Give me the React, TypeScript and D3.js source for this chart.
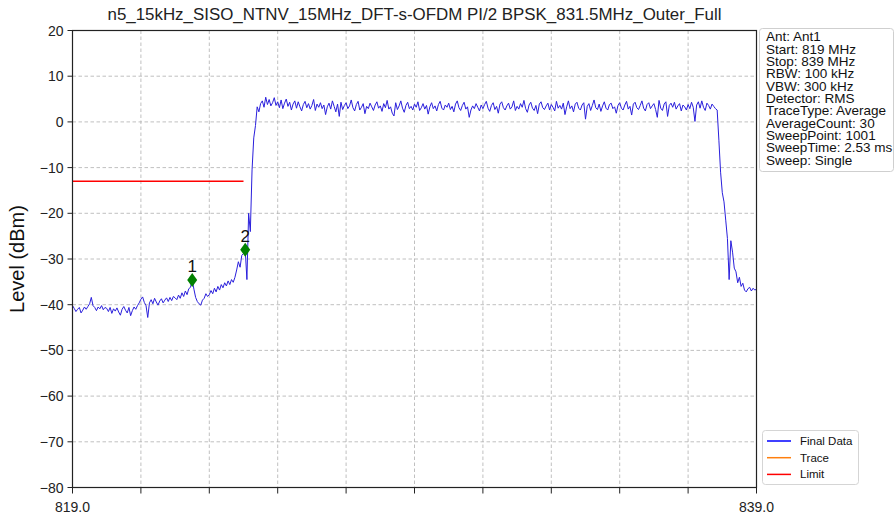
import React from "react";
import * as d3 from "d3";

const TITLE = "n5_15kHz_SISO_NTNV_15MHz_DFT-s-OFDM PI/2 BPSK_831.5MHz_Outer_Full";
const START_FREQ = 819;
const STOP_FREQ = 839;
const FREQ_STEP = 0.05;
const yTicks = [20, 10, 0, -10, -20, -30, -40, -50, -60, -70, -80];
const xTicks = [819, 821, 823, 825, 827, 829, 831, 833, 835, 837, 839];
const xTickLabels = ["819.0", "", "", "", "", "", "", "", "", "", "839.0"];

// Trace levels (dBm), one value per 0.05 MHz from 819.00 to 839.00
const traceLevels = [
  -40.2,-40.8,-41.5,-41.0,-40.6,-41.8,-41.2,-40.5,-41.0,-40.4,-39.8,-38.4,-40.2,-40.6,-41.3,-40.5,-40.9,-40.2,-41.1,-40.6,
  -40.8,-41.5,-40.6,-41.9,-40.9,-41.4,-40.7,-41.6,-42.3,-41.0,-40.4,-41.2,-41.8,-40.6,-42.4,-41.3,-40.5,-41.0,-40.2,-39.6,
  -38.8,-38.3,-39.5,-40.2,-42.8,-39.6,-38.9,-39.8,-38.6,-39.4,-40.1,-39.2,-38.7,-39.6,-39.0,-38.5,-39.3,-38.4,-39.1,-38.2,
  -38.5,-38.9,-37.9,-38.6,-37.4,-38.2,-37.0,-37.8,-36.5,-36.2,-34.6,-36.6,-38.4,-39.3,-39.8,-40.1,-39.0,-38.6,-37.6,-38.2,
  -37.8,-36.9,-37.6,-36.4,-37.2,-36.0,-36.8,-35.6,-36.3,-35.2,-35.9,-34.8,-35.6,-34.5,-35.1,-34.0,-32.4,-30.6,-31.8,-29.2,
  -28.8,-28.0,-34.5,-20.0,-24.0,-10.5,-3.5,-0.8,3.3,2.2,4.0,4.6,3.2,5.4,3.8,4.9,3.5,4.2,5.3,3.6,
  4.4,3.1,4.8,2.9,4.1,5.0,3.4,4.3,2.6,3.9,4.6,3.0,4.4,3.3,2.4,3.8,4.5,3.1,4.0,2.8,
  3.6,4.9,2.5,3.9,3.2,4.2,2.9,3.7,1.6,3.3,4.1,2.8,4.6,3.4,2.2,3.9,1.2,4.3,2.7,3.6,
  4.2,2.9,3.5,4.8,3.1,2.4,3.8,4.5,2.6,3.2,4.0,1.8,3.4,2.9,4.1,3.3,2.5,3.7,4.4,3.0,
  3.5,2.3,4.0,3.1,4.7,2.8,3.3,1.9,1.3,4.2,2.7,3.5,4.6,3.0,2.1,3.6,4.3,2.9,3.4,2.6,
  3.9,3.2,4.4,2.5,3.1,4.0,2.8,3.6,1.7,3.3,4.2,2.9,3.5,2.4,3.8,4.5,3.0,2.6,3.7,3.2,
  4.1,2.7,3.4,2.2,3.9,4.6,3.1,2.5,3.6,4.3,2.8,3.3,1.0,2.6,3.5,2.9,4.0,3.2,2.4,3.7,
  2.9,3.8,4.5,3.0,2.3,3.6,4.2,2.7,3.4,1.9,3.9,4.4,3.1,2.6,3.5,4.1,2.8,3.3,4.6,2.5,
  3.4,2.8,4.0,3.2,4.7,2.9,2.1,3.7,4.3,3.0,2.5,3.6,1.8,3.9,4.4,3.1,2.7,3.5,4.1,2.6,
  3.8,3.2,2.4,4.5,3.0,3.6,2.8,4.1,1.6,3.3,4.6,2.9,3.5,2.2,3.9,4.3,3.0,2.6,3.7,4.2,
  0.6,3.4,4.0,2.5,3.6,4.8,3.1,2.7,3.9,2.3,3.5,4.4,3.0,2.6,3.8,4.1,2.9,3.3,1.9,3.6,
  4.2,3.0,2.6,3.7,4.5,2.8,3.4,1.5,3.9,4.3,3.1,2.7,3.6,4.6,3.0,2.4,3.8,4.2,2.9,3.5,
  4.0,2.7,1.0,4.7,3.0,2.5,3.9,4.4,1.2,3.6,4.1,3.2,4.3,2.8,3.5,4.0,2.4,3.7,3.3,2.6,
  3.8,2.9,4.3,3.2,0.1,3.7,4.4,3.0,4.6,3.2,2.5,4.1,3.6,2.8,3.9,3.4,2.9,2.6,-4.0,-11.0,
  -15.5,-17.5,-21.5,-25.5,-34.5,-26.0,-28.5,-32.0,-32.8,-35.2,-34.0,-36.0,-35.3,-36.8,-37.2,-36.5,-36.2,-37.0,-36.4,-36.8,
  -36.6,
];

const limitFreqs = [819, 824];
const limitLevels = [-13, -13];

const markerLabels = ["1", "2"];
const markerFreqs = [822.5, 824.05];
const markerLevels = [-34.6, -28.0];

const infoLines = [
  "Ant: Ant1",
  "Start: 819 MHz",
  "Stop: 839 MHz",
  "RBW: 100 kHz",
  "VBW: 300 kHz",
  "Detector: RMS",
  "TraceType: Average",
  "AverageCount: 30",
  "SweepPoint: 1001",
  "SweepTime: 2.53 ms",
  "Sweep: Single",
];

const legendNames = ["Final Data", "Trace", "Limit"];
const legendColors = ["#0000ff", "#ff7f0e", "#ff0000"];

const FONT = "'Liberation Sans', Arial, Helvetica, sans-serif";

export default function App() {
  const W = 896;
  const H = 517;
  const left = 72.5;
  const right = 756.5;
  const top = 30.5;
  const bottom = 487.5;

  const x = d3.scaleLinear().domain([START_FREQ, STOP_FREQ]).range([left, right]);
  const y = d3.scaleLinear().domain([-80, 20]).range([bottom, top]);

  const traceData = traceLevels.map((v, i) => [START_FREQ + i * FREQ_STEP, v] as [number, number]);
  const line = d3
    .line<[number, number]>()
    .x((d) => x(d[0]))
    .y((d) => y(d[1]));

  const limitData = limitFreqs.map((f, i) => [f, limitLevels[i]] as [number, number]);

  const diamond = (cx: number, cy: number) =>
    `M${cx},${cy - 7} L${cx + 5},${cy} L${cx},${cy + 7} L${cx - 5},${cy} Z`;

  const infoX = 766;

  return (
    <svg
      width={W}
      height={H}
      style={{ position: "absolute", left: 0, top: 0, background: "#fff" }}
      fontFamily={FONT}
    >
      <rect x={0} y={0} width={W} height={H} fill="#fff" />
      {/* grid */}
      {xTicks.slice(1, -1).map((t) => (
        <line
          key={"gx" + t}
          x1={x(t)}
          x2={x(t)}
          y1={top}
          y2={bottom}
          stroke="#b0b0b0"
          strokeWidth={0.8}
          strokeDasharray="3.5,2.5"
        />
      ))}
      {yTicks.slice(1, -1).map((t) => (
        <line
          key={"gy" + t}
          x1={left}
          x2={right}
          y1={y(t)}
          y2={y(t)}
          stroke="#b0b0b0"
          strokeWidth={0.8}
          strokeDasharray="3.5,2.5"
        />
      ))}

      {/* limit */}
      <path d={line(limitData) || ""} fill="none" stroke="#ff0000" strokeWidth={1.5} />

      {/* trace */}
      <path d={line(traceData) || ""} fill="none" stroke="#2a1fdc" strokeWidth={1} strokeLinejoin="round" />

      {/* markers */}
      {markerFreqs.map((f, i) => (
        <g key={"m" + i}>
          <path d={diamond(x(f), y(markerLevels[i]))} fill="#008000" />
          <text
            x={x(f)}
            y={y(markerLevels[i]) - 8}
            textAnchor="middle"
            fontSize={17}
            fill="#111"
          >
            {markerLabels[i]}
          </text>
        </g>
      ))}

      {/* frame */}
      <rect x={left} y={top} width={right - left} height={bottom - top} fill="none" stroke="#222" strokeWidth={1.2} />

      {/* y axis ticks */}
      {yTicks.map((t) => (
        <g key={"yt" + t}>
          <line x1={left - 5} x2={left} y1={y(t)} y2={y(t)} stroke="#222" strokeWidth={1} />
          <text x={left - 9} y={y(t) + 5} textAnchor="end" fontSize={14} fill="#222">
            {t < 0 ? "\u2212" + Math.abs(t) : String(t)}
          </text>
        </g>
      ))}

      {/* x axis ticks */}
      {xTicks.map((t, i) => (
        <g key={"xt" + t}>
          <line x1={x(t)} x2={x(t)} y1={bottom} y2={bottom + 6} stroke="#222" strokeWidth={1} />
          {xTickLabels[i] && (
            <text x={x(t)} y={bottom + 24} textAnchor="middle" fontSize={14} fill="#222">
              {xTickLabels[i]}
            </text>
          )}
        </g>
      ))}

      {/* title */}
      <text
        x={(left + right) / 2}
        y={20}
        textAnchor="middle"
        fontSize={16}
        fill="#222"
        textLength={614}
        lengthAdjust="spacingAndGlyphs"
      >
        {TITLE}
      </text>

      {/* y label */}
      <text
        transform={`translate(24,${(top + bottom) / 2}) rotate(-90)`}
        textAnchor="middle"
        fontSize={20}
        fill="#111"
      >
        Level (dBm)
      </text>

      {/* info box */}
      <rect x={759.5} y={28.5} width={134} height={143} rx={3} fill="#fff" stroke="#cfcfcf" strokeWidth={1} />
      <g transform={`translate(${infoX},0) scale(1.04,1)`}>
        {infoLines.map((s, i) => (
          <text key={"info" + i} x={0} y={41.5 + i * 12.33} fontSize={13} fill="#111">
            {s}
          </text>
        ))}
      </g>

      {/* legend */}
      <rect x={762.5} y={430.5} width={96} height={54} rx={3} fill="#fff" stroke="#d5d5d5" strokeWidth={1} />
      {legendNames.map((n, i) => (
        <g key={"lg" + i}>
          <line x1={767} x2={791} y1={441 + i * 16.7} y2={441 + i * 16.7} stroke={legendColors[i]} strokeWidth={1.5} />
          <text x={800} y={445 + i * 16.7} fontSize={11.5} fill="#111">
            {n}
          </text>
        </g>
      ))}
    </svg>
  );
}
